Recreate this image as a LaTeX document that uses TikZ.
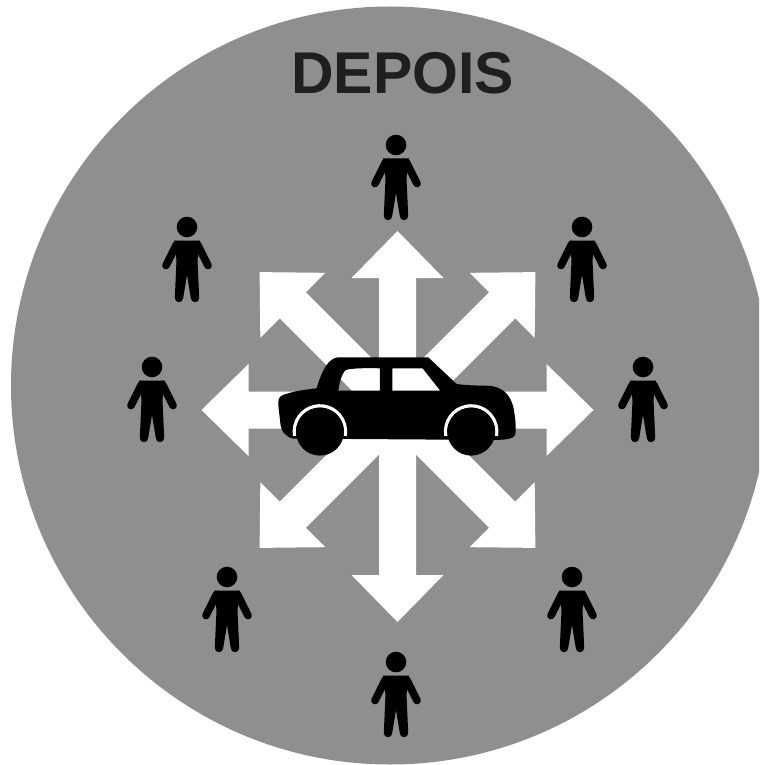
\documentclass[tikz,border=0pt]{standalone}
\usepackage{fontspec}
\setsansfont{Liberation Sans}
\colorlet{disc}{black!44}
\colorlet{ink}{black!88}
\tikzset{
  title/.style   ={font=\sffamily\bfseries\fontsize{50.3}{50.3}\selectfont, text=ink,
                   inner sep=0pt},
  limb/.style    ={draw=black, line cap=round, line join=round, line width=6.6pt},
  person/.pic={
    \fill[black] (0,-33) circle (10.3);
    \fill[black] (-13,-19.5) -- (13,-19.5) -- (10.5,0) -- (12.2,38)
      .. controls (12.2,43.5) and (3.8,43.5) .. (3.8,38) -- (0,15) -- (-3.8,38)
      .. controls (-3.8,43.5) and (-12.2,43.5) .. (-12.2,38) -- (-10.5,0) -- cycle;
    \draw[limb] (-10.5,-15.5) -- (-21,5.5);
    \draw[limb] (10.5,-15.5) -- (21,5.5);
  },
}
\begin{document}
\begin{tikzpicture}[x=0.03cm, y=-0.03cm]
\clip (0,0) rectangle (759,765);

% --- disc and title ---
\fill[disc] (390,385.5) circle (379);
\node[title] (depois) at (402.5,73) {DEPOIS};

% --- arrows: angle / length from the middle ---
\foreach \ang/\len in {0/179, 45/195, 90/196, 135/195, 180/212, 225/195, 270/196, 315/195}
  \fill[white, shift={(397.5,410)}, rotate=\ang]
    (-18.5,0) -- (-18.5,-\len+47) -- (-46,-\len+47) -- (0,-\len)
    -- (46,-\len+47) -- (18.5,-\len+47) -- (18.5,0) -- cycle;

% --- people ---
\foreach \px/\py in {396/178, 187/260, 582/260, 152/400, 643/400, 227/610, 572/610, 396/695}
  \pic at (\px,\py) {person};

% --- car, windows left open ---
\begin{scope}[shift={(260,340)}, x=0.01cm, y=-0.01cm]
  \fill[black, even odd rule]
    (55,185) .. controls (55,170) and (65,165) .. (85,160)
    .. controls (110,152) and (145,148) .. (170,145)
    .. controls (180,110) and (195,75) .. (212,62)
    .. controls (222,54) and (228,52) .. (240,52)
    -- (505,52) -- (590,132)
    .. controls (630,138) and (665,136) .. (695,138)
    .. controls (735,145) and (752,170) .. (760,200)
    .. controls (766,230) and (770,260) .. (766,285)
    .. controls (762,297) and (735,300) .. (700,300)
    -- (100,296)
    .. controls (75,290) and (62,275) .. (60,240)
    .. controls (58,220) and (55,205) .. (55,185) -- cycle
    (235,152) .. controls (238,130) and (245,100) .. (258,90)
    .. controls (275,84) and (330,84) .. (360,85) -- (360,152) -- cycle
    (397,85) -- (488,85) -- (541,152) -- (397,152) -- cycle;
  \foreach \wx in {180, 634} {
    \draw[white, line width=2.8pt] (\wx-76,288) arc[start angle=170, end angle=370, radius=77];
    \fill[black] (\wx,275) circle (72);
  }
\end{scope}
\end{tikzpicture}
\end{document}
